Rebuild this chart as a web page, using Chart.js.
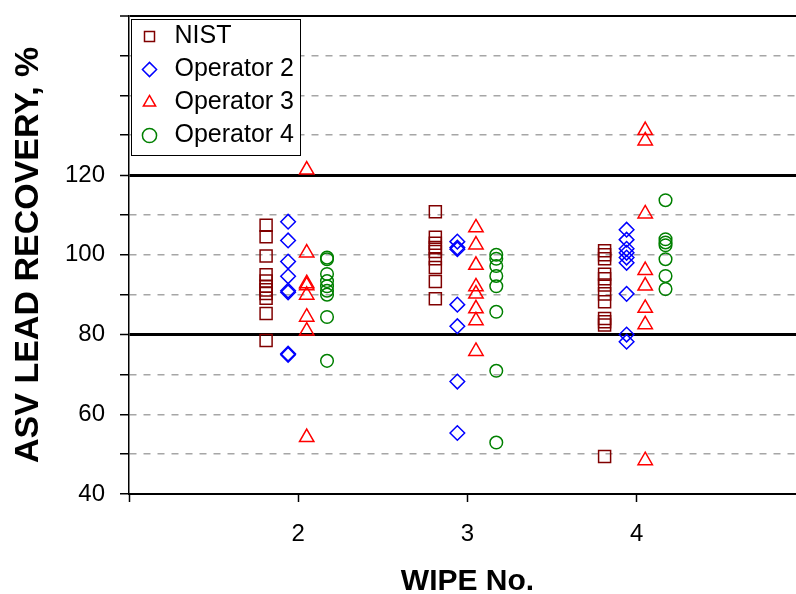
<!DOCTYPE html>
<html>
<head>
<meta charset="utf-8">
<script src="https://cdn.jsdelivr.net/npm/chart.js@4.4.1/dist/chart.umd.min.js"></script>
<style>
  html, body { margin: 0; padding: 0; background: #fff; overflow: hidden; }
  /* wider than the window: the right end of the plot is cut off, as in the original */
  #box { position: relative; width: 824px; height: 594px; }
</style>
</head>
<body>
<div id="box"><canvas id="myChart"></canvas></div>
<script>
// wipe numbers and y tick labels
const wipes = [2, 3, 4];
const yTickLabels = [40, 60, 80, 100, 120];

// recoveries (%) per wipe
const nist = [
  [107.4, 104.5, 99.7, 95.0, 93.4, 92.1, 91.2, 90.3, 89.1, 85.3, 78.5],
  [110.8, 104.4, 102.9, 101.8, 100.8, 99.0, 96.8, 93.3, 89.0],
  [101.0, 100.0, 99.0, 95.1, 94.0, 92.4, 90.2, 88.2, 84.0, 83.2, 82.4, 49.4]
];
const operator2 = [
  [108.3, 103.6, 98.3, 94.6, 91.0, 90.6, 75.2, 74.9],
  [103.3, 101.8, 101.4, 87.5, 82.1, 68.2, 55.3],
  [106.3, 103.8, 101.5, 100.5, 99.3, 98.0, 90.2, 80.0, 78.2]
];
const operator3 = [
  [121.3, 100.5, 92.8, 92.3, 89.9, 84.4, 80.9, 54.2],
  [106.8, 102.5, 97.4, 92.0, 90.2, 86.5, 83.5, 75.8],
  [131.2, 128.6, 110.3, 96.1, 92.2, 86.6, 82.5, 48.4]
];
const operator4 = [
  [99.3, 98.9, 95.2, 93.4, 92.1, 91.0, 90.0, 84.4, 73.4],
  [100.0, 99.0, 97.2, 94.7, 92.1, 85.7, 70.9, 52.9],
  [113.7, 103.9, 103.1, 102.4, 98.9, 94.7, 91.4]
];

const FONT = "'Liberation Sans', Arial, sans-serif";

function points(series, shift) {
  let out = [];
  series.forEach((vals, i) => {
    vals.forEach(v => out.push({ x: wipes[i] + shift, y: v }));
  });
  return out;
}

function set(label, series, shift, color, style, r) {
  return {
    label: label,
    data: points(series, shift),
    pointStyle: style,
    pointRadius: r,
    pointHoverRadius: r,
    pointBorderWidth: 1.5,
    borderColor: color,
    backgroundColor: 'rgba(0,0,0,0)',
    showLine: false
  };
}

// white box with frame around the legend
const legendFrame = {
  id: 'legendFrame',
  afterDraw(chart) {
    const lg = chart.legend;
    const hb = lg.legendHitBoxes;
    if (!hb || !hb.length) return;
    const ctx = chart.ctx;
    const x0 = lg.left + 2;
    const y0 = hb[0].top - 5;
    const x1 = Math.max(...hb.map(b => b.left + b.width)) + 6;
    const last = hb[hb.length - 1];
    const y1 = last.top + last.height + 7;
    ctx.save();
    ctx.fillStyle = '#fff';
    ctx.fillRect(x0, y0, x1 - x0, y1 - y0);
    ctx.strokeStyle = '#000';
    ctx.lineWidth = 1;
    ctx.strokeRect(x0 + 0.5, y0 + 0.5, x1 - x0, y1 - y0);
    ctx.restore();
    lg.draw();
  }
};

const limits = [80, 120];
const isLimit = c => {
  const v = c.tick ? c.tick.value : 0;
  return limits.includes(v) || v === 160;
};

const ctx = document.getElementById('myChart');
new Chart(ctx, {
  type: 'scatter',
  data: {
    datasets: [
      set('NIST', nist, -0.19, '#800000', 'rect', 8.5),
      set('Operator 2', operator2, -0.06, '#0000ff', 'rectRot', 7.3),
      set('Operator 3', operator3, 0.05, '#ff0000', 'triangle', 8.3),
      set('Operator 4', operator4, 0.17, '#008000', 'circle', 6.3)
    ]
  },
  options: {
    responsive: true,
    maintainAspectRatio: false,
    animation: false,
    layout: { padding: { top: 12 } },
    plugins: {
      tooltip: { enabled: false },
      legend: {
        position: 'chartArea',
        align: 'start',
        title: { display: true, text: '', padding: { top: 6, bottom: 0 }, font: { size: 10, lineHeight: 1 } },
        labels: {
          usePointStyle: true,
          boxHeight: 10,
          padding: 8,
          color: '#000',
          font: { family: FONT, size: 25 }
        }
      }
    },
    scales: {
      x: {
        type: 'linear',
        min: 1,
        max: 5,
        afterFit: s => { s.height = 100; },
        ticks: {
          stepSize: 1,
          autoSkip: false,
          maxRotation: 0,
          padding: 18,
          color: '#000',
          font: { family: FONT, size: 24 },
          callback: v => wipes.includes(v) ? String(v) : ''
        },
        grid: { drawOnChartArea: false, drawTicks: true, tickLength: 8, tickColor: '#000', tickWidth: 1.5 },
        border: { color: '#000', width: 2 },
        title: {
          display: true,
          text: 'WIPE No.',
          color: '#000',
          padding: 0,
          font: { family: FONT, size: 30, weight: 'bold', lineHeight: 0.8 }
        }
      },
      y: {
        min: 40,
        max: 160,
        afterFit: s => { s.width = 129; },
        ticks: {
          stepSize: 10,
          padding: 15,
          color: '#000',
          font: c => ({ family: FONT, size: (c.tick && yTickLabels.includes(c.tick.value)) ? 24 : 1 }),
          callback: v => yTickLabels.includes(v) ? String(v) : ''
        },
        grid: {
          color: c => isLimit(c) ? '#000' : '#a6a6a6',
          lineWidth: c => {
            const v = c.tick ? c.tick.value : 0;
            if (limits.includes(v)) return 3;
            if (v === 160) return 2;
            return 1.5;
          },
          drawTicks: true,
          tickLength: 9,
          tickColor: '#000',
          tickWidth: 1.5,
          tickBorderDash: []
        },
        border: {
          color: '#000',
          width: 1.5,
          dash: c => isLimit(c) ? [] : [7, 7]
        },
        title: {
          display: true,
          text: 'ASV LEAD RECOVERY, %',
          color: '#000',
          padding: { top: 8, bottom: 0 },
          font: { family: FONT, size: 34, weight: 'bold' }
        }
      }
    }
  },
  plugins: [legendFrame]
});
</script>
</body>
</html>
